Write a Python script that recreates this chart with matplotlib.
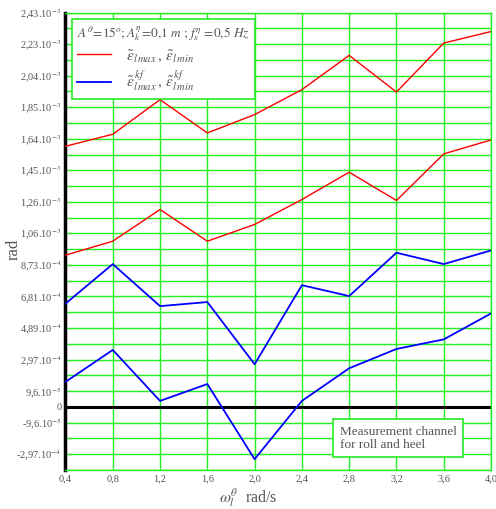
import numpy as np
import matplotlib.pyplot as plt

plt.rcParams['font.family'] = ['Liberation Serif', 'DejaVu Serif']
plt.rcParams['mathtext.fontset'] = 'stix'

# data (rad)
omega = [0.4, 0.8, 1.2, 1.6, 2.0, 2.4, 2.8, 3.2, 3.6, 4.0]
eps_max = [1.606e-3, 1.680e-3, 1.893e-3, 1.688e-3, 1.801e-3, 1.955e-3, 2.166e-3, 1.940e-3, 2.242e-3, 2.313e-3]
eps_min = [0.935e-3, 1.021e-3, 1.216e-3, 1.021e-3, 1.124e-3, 1.278e-3, 1.446e-3, 1.272e-3, 1.559e-3, 1.645e-3]
kf_max = [6.36e-4, 8.80e-4, 6.21e-4, 6.46e-4, 2.63e-4, 7.50e-4, 6.83e-4, 9.50e-4, 8.80e-4, 9.64e-4]
kf_min = [1.54e-4, 3.51e-4, 0.37e-4, 1.41e-4, -3.22e-4, 0.37e-4, 2.38e-4, 3.57e-4, 4.16e-4, 5.76e-4]

# y grid: one line per step, label on every second line
step = 9.72e-5
grid_k = np.arange(-4, 26)
label_k = [-3, -1, 0, 1, 3, 5, 7, 9, 11, 13, 15, 17, 19, 21, 23, 25]
label_txt = [r"-2,97.10$^{-4}$", r"-9,6.10$^{-5}$", "0", r"9,6.10$^{-5}$",
             r"2,97.10$^{-4}$", r"4,89.10$^{-4}$", r"6,81.10$^{-4}$", r"8,73.10$^{-4}$",
             r"1,06.10$^{-3}$", r"1,26.10$^{-3}$", r"1,45.10$^{-3}$", r"1,64.10$^{-3}$",
             r"1,85.10$^{-3}$", r"2,04.10$^{-3}$", r"2,23.10$^{-3}$", r"2,43.10$^{-3}$"]
x_ticks = [0.4, 0.8, 1.2, 1.6, 2.0, 2.4, 2.8, 3.2, 3.6, 4.0]
x_txt = ["0,4", "0,8", "1,2", "1,6", "2,0", "2,4", "2,8", "3,2", "3,6", "4,0"]

grey = '#555555'
green = '#22ee22'

fig = plt.figure(figsize=(4.96, 5.09), dpi=100)
ax = fig.add_axes([0.132, 0.0766, 0.858, 0.8988])

for k in grid_k:
    ax.axhline(k * step, color=green, lw=1.0, zorder=1)
for xv in x_ticks:
    ax.axvline(xv, color=green, lw=1.0, zorder=1)
ax.axhline(0, color='black', lw=2.2, zorder=2)

l1, = ax.plot(omega, eps_max, color='red', lw=1.0, zorder=3)
ax.plot(omega, eps_min, color='red', lw=1.0, zorder=3)
l2, = ax.plot(omega, kf_max, color='blue', lw=1.3, zorder=3)
ax.plot(omega, kf_min, color='blue', lw=1.3, zorder=3)

ax.set_xlim(0.4, 4.0)
ax.set_ylim(-4 * step, 25 * step)
ax.set_xticks(x_ticks)
ax.set_xticklabels(x_txt)
ax.set_yticks([k * step for k in label_k])
ax.set_yticklabels(label_txt)
ax.tick_params(length=0, labelsize=7.5, colors=grey, pad=3)

for s in ['top', 'right', 'bottom']:
    ax.spines[s].set_color(green)
    ax.spines[s].set_linewidth(1.0)
ax.spines['left'].set_color('black')
ax.spines['left'].set_linewidth(2.5)

fig.text(0.028, 0.51, 'rad', rotation=90, fontsize=12, color=grey, ha='center', va='center')
fig.text(0.50, 0.022, r"$\omega_l^{\theta}$  rad/s", fontsize=11.5, color=grey, ha='center', va='center')

leg = ax.legend([l1, l2],
                [r"$\tilde{\varepsilon}_{l\,max}\,,\,\tilde{\varepsilon}_{l\,min}$",
                 r"$\tilde{\varepsilon}^{\,kf}_{l\,max}\,,\,\tilde{\varepsilon}^{\,kf}_{l\,min}$"],
                title=r"$A^{\theta}\!=\!15^{o};A_k^{\eta}\!=\!0{,}1\ m\ ;\,f_s^{\eta}\ \!=\!0{,}5\ Hz$",
                loc='upper left', bbox_to_anchor=(0.015, 0.986), borderaxespad=0,
                fontsize=11, title_fontsize=9.5, fancybox=False, framealpha=1,
                edgecolor=green, handlelength=2.2, handletextpad=1.0, borderpad=0.35,
                labelspacing=0.3, alignment='left')
leg.get_frame().set_linewidth(1.2)
leg.get_title().set_color(grey)
for t in leg.get_texts():
    t.set_color(grey)

ax.text(0.645, 0.097, "Measurement channel\nfor roll and heel", transform=ax.transAxes,
        fontsize=9.5, color=grey, va='top', ha='left', linespacing=1.1,
        bbox=dict(boxstyle='square,pad=0.5', fc='white', ec=green, lw=1.2), zorder=5)

fig.savefig('out.png', dpi=100)
